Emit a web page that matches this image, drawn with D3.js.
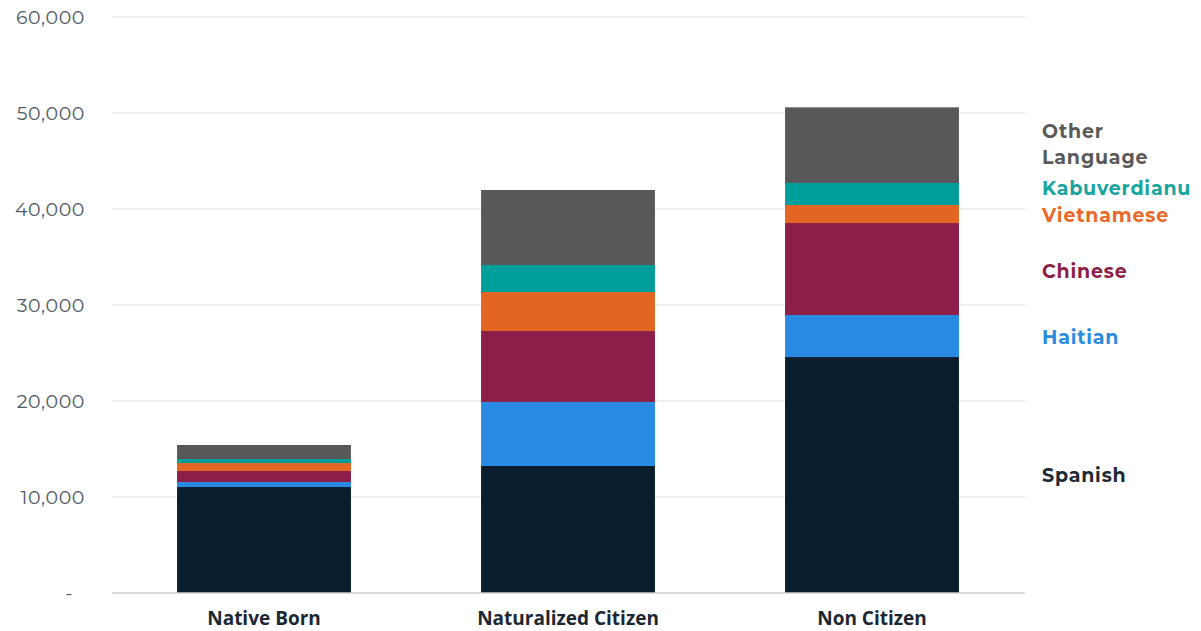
<!DOCTYPE html>
<html><head><meta charset="utf-8">
<script src="https://cdn.jsdelivr.net/npm/d3@7/dist/d3.min.js"></script>
<style>body{margin:0;background:#fff;}svg{display:block;}</style>
</head><body>
<svg id="c" width="1201" height="631"></svg>
<script>
const categories = ["Native Born", "Naturalized Citizen", "Non Citizen"];
const seriesNames = ["Spanish", "Haitian", "Chinese", "Vietnamese", "Kabuverdianu", "Other Language"];
const spanish      = [11040, 13230, 24580];
const haitian      = [520, 6670, 4380];
const chinese      = [1150, 7390, 9580];
const vietnamese   = [830, 4060, 1880];
const kabuverdianu = [420, 2820, 2290];
const other        = [1460, 7810, 7880];
const yTicks = [0, 10000, 20000, 30000, 40000, 50000, 60000];
const colors = ["#0a1d2c", "#288ae2", "#8c1e4a", "#e36522", "#009e9a", "#58585a"];
const labelColors = ["#1e2a36", "#2a8be2", "#8c1e4a", "#e8692a", "#17a5a0", "#595959"];

const seriesValues = [spanish, haitian, chinese, vietnamese, kabuverdianu, other];
const rows = categories.map((c, i) => {
  const r = {cat: c};
  seriesNames.forEach((s, j) => r[s] = seriesValues[j][i]);
  return r;
});
const stacked = d3.stack().keys(seriesNames)(rows);

const svg = d3.select("#c");
const y = d3.scaleLinear().domain([0, 60000]).range([593, 17]);
const x = d3.scaleBand().domain(categories).range([112, 1024]).paddingInner(0.428).paddingOuter(0.214);

// gridlines
svg.append("g").selectAll("line").data(yTicks.filter(t => t > 0)).join("line")
  .attr("x1", 112).attr("x2", 1025)
  .attr("y1", d => y(d)).attr("y2", d => y(d))
  .attr("stroke", "#e3e3e3").attr("stroke-width", 1.2);

// y axis labels
const yAxis = d3.axisLeft(y).tickValues(yTicks).tickSize(0).tickPadding(0)
  .tickFormat(d => d === 0 ? "-" : d3.format(",")(d));
const ya = svg.append("g").attr("transform", "translate(85,0)").call(yAxis);
ya.select(".domain").remove();
ya.selectAll("text").attr("font-family", "Montserrat, Inter, 'Open Sans', sans-serif")
  .attr("font-size", 19).attr("letter-spacing", 0.6).attr("fill", "#4f5a64").attr("dy", "0.35em")
  .filter(d => d === 0).attr("dx", "-12");

// bars
svg.append("g").selectAll("g").data(stacked).join("g")
  .attr("fill", (d, i) => colors[i])
  .selectAll("rect").data(d => d).join("rect")
  .attr("x", d => x(d.data.cat))
  .attr("width", x.bandwidth())
  .attr("y", d => y(d[1]))
  .attr("height", d => y(d[0]) - y(d[1]));

// baseline
svg.append("line").attr("x1", 112).attr("x2", 1025).attr("y1", 593).attr("y2", 593)
  .attr("stroke", "#d0d0d0").attr("stroke-width", 1.5);

// x axis labels
const xAxis = d3.axisBottom(x).tickSize(0).tickPadding(0);
const xa = svg.append("g").attr("transform", "translate(0,625)").call(xAxis);
xa.select(".domain").remove();
xa.selectAll("text").attr("dy", 0).attr("font-family", "'Open Sans', sans-serif")
  .attr("font-weight", 700).attr("font-size", 19).attr("fill", "#1b2733");

// legend labels
const legend = [
  {lines: ["Other", "Language"], y: 138, i: 5},
  {lines: ["Kabuverdianu"], y: 195, i: 4},
  {lines: ["Vietnamese"], y: 222, i: 3},
  {lines: ["Chinese"], y: 278, i: 2},
  {lines: ["Haitian"], y: 344, i: 1},
  {lines: ["Spanish"], y: 482, i: 0}
];
legend.forEach(l => {
  const t = svg.append("text").attr("x", 1042).attr("y", l.y)
    .attr("font-family", "Montserrat, Inter, 'Open Sans', sans-serif")
    .attr("font-weight", 700).attr("font-size", 19).attr("letter-spacing", 0.8).attr("fill", labelColors[l.i]);
  l.lines.forEach((s, k) => t.append("tspan").attr("x", 1042).attr("dy", k ? 26 : 0).text(s));
});
</script>
</body></html>
